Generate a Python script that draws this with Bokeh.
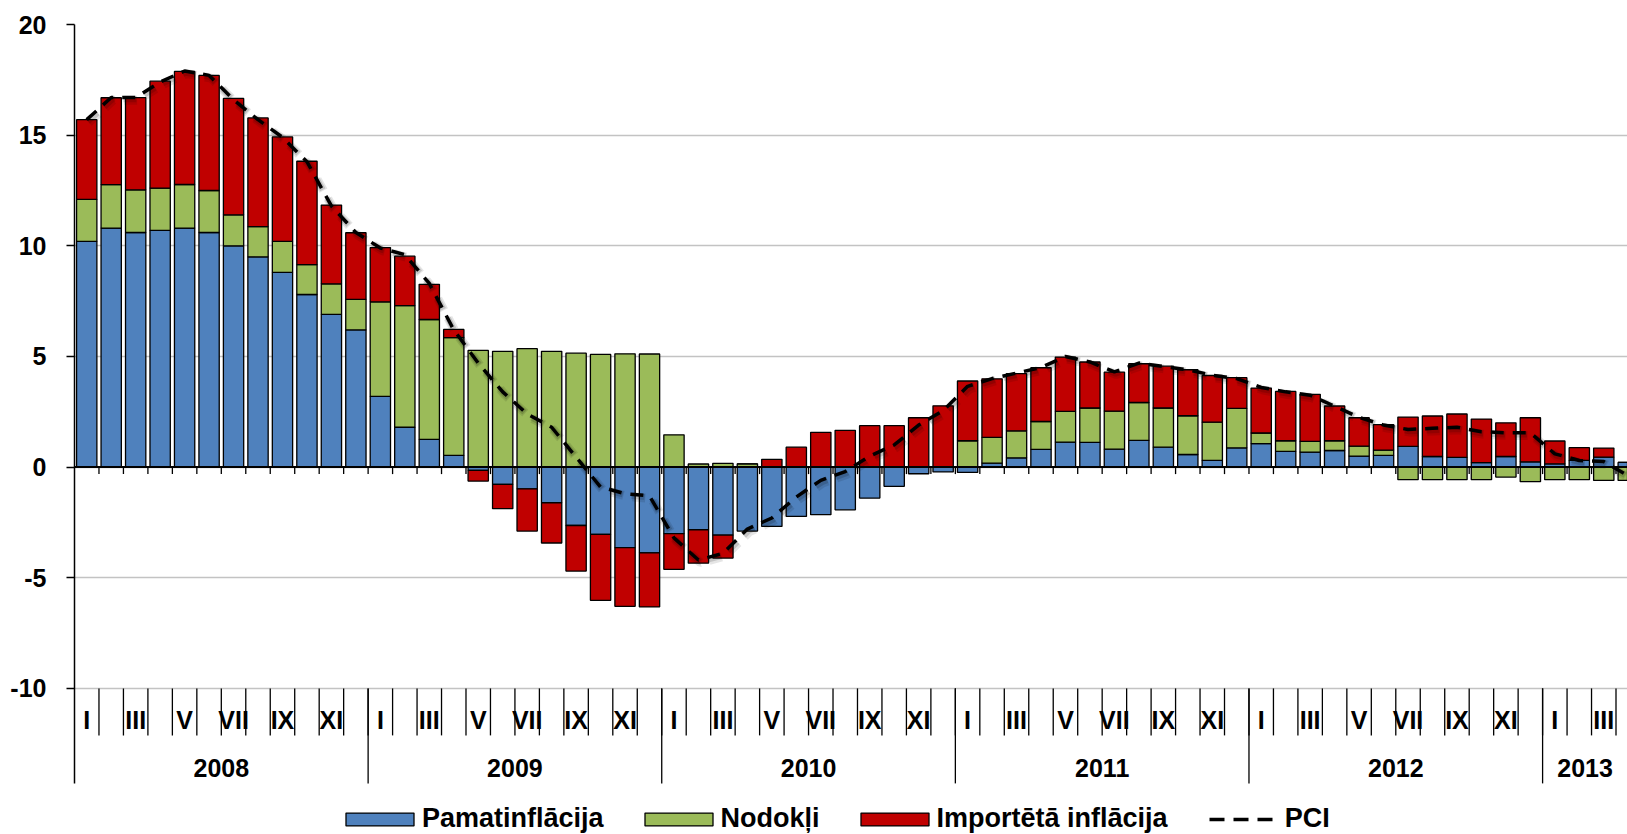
import numpy as np
from bokeh.plotting import figure
from bokeh.models import ColumnDataSource, FixedTicker, Span, Legend, LegendItem, Range1d
from bokeh.core.properties import value
from bokeh.embed import file_html
from bokeh.resources import INLINE

# ---------------- data ----------------
years = ["2008", "2009", "2010", "2011", "2012", "2013"]
month_labels = ["I", "II", "III", "IV", "V", "VI", "VII", "VIII", "IX", "X", "XI", "XII"]

pamatinflacija = [
    10.2, 10.8, 10.6, 10.7, 10.8, 10.6, 10.0, 9.5, 8.8, 7.8, 6.9, 6.2,
    3.2, 1.8, 1.25, 0.53, -0.15, -0.78, -0.98, -1.61, -2.64, -3.04, -3.64, -3.88,
    -3.01, -2.83, -3.07, -2.89, -2.68, -2.23, -2.15, -1.93, -1.40, -0.87, -0.30, -0.22,
    -0.24, 0.18, 0.42, 0.80, 1.13, 1.12, 0.81, 1.21, 0.90, 0.57, 0.30, 0.87,
    1.06, 0.71, 0.68, 0.75, 0.50, 0.53, 0.94, 0.48, 0.44, 0.20, 0.48, 0.24,
    0.15, 0.30, 0.45, 0.21,
]
nodokli = [
    1.90, 1.96, 1.93, 1.91, 1.97, 1.90, 1.40, 1.37, 1.40, 1.35, 1.38, 1.38,
    4.27, 5.50, 5.42, 5.32, 5.27, 5.23, 5.35, 5.23, 5.15, 5.09, 5.12, 5.11,
    1.46, 0.14, 0.17, 0.15, 0.0, 0.0, 0.0, 0.0, 0.0, 0.0, 0.0, 0.0,
    1.19, 1.16, 1.22, 1.26, 1.39, 1.55, 1.72, 1.71, 1.77, 1.75, 1.73, 1.78,
    0.48, 0.48, 0.48, 0.44, 0.45, 0.24, -0.57, -0.57, -0.57, -0.57, -0.45, -0.66,
    -0.57, -0.57, -0.60, -0.60,
]
importeta = [
    3.60, 3.93, 4.17, 4.83, 5.11, 5.20, 5.26, 4.91, 4.72, 4.67, 3.56, 3.01,
    2.45, 2.23, 1.59, 0.37, -0.48, -1.10, -1.91, -1.82, -2.06, -2.98, -2.65, -2.44,
    -1.61, -1.51, -1.04, 0.0, 0.35, 0.90, 1.57, 1.66, 1.87, 1.87, 2.23, 2.77,
    2.70, 2.65, 2.58, 2.43, 2.45, 2.08, 1.76, 1.75, 1.89, 2.08, 2.11, 1.39,
    2.03, 2.23, 2.13, 1.57, 1.28, 1.15, 1.32, 1.83, 1.96, 1.97, 1.52, 1.99,
    1.03, 0.58, 0.41, 0.0,
]
pci = [
    15.7, 16.7, 16.7, 17.4, 17.9, 17.7, 16.6, 15.7, 14.9, 13.8, 11.8, 10.6,
    9.9, 9.6, 8.3, 6.2, 4.7, 3.4, 2.4, 1.8, 0.45, -0.9, -1.2, -1.3,
    -3.2, -4.2, -3.9, -2.8, -2.3, -1.35, -0.6, -0.2, 0.5, 1.0, 1.9, 2.55,
    3.65, 4.0, 4.25, 4.5, 5.0, 4.75, 4.3, 4.7, 4.55, 4.4, 4.15, 4.0,
    3.6, 3.4, 3.25, 2.75, 2.25, 1.9, 1.7, 1.75, 1.8, 1.6, 1.55, 1.55,
    0.6, 0.3, 0.25, -0.4,
]

series_names = ["Pamatinflācija", "Nodokļi", "Importētā inflācija"]
series_values = [pamatinflacija, nodokli, importeta]
series_colors = ["#4F81BD", "#9BBB59", "#C00000"]

# ---------------- layout constants ----------------
FONT = "Liberation Sans"
FIG_W, FIG_H = 1627, 834
BORDER_L, BORDER_T = 74, 24
Y_TOP = 20.0
PX = 22.13                       # pixels per y unit
frame_h = FIG_H - BORDER_T
Y_BOT = Y_TOP - frame_h / PX
X_END = 63.47

n = len(pamatinflacija)
xc = np.arange(n) + 0.5

# stacking (positives up from 0, negatives down from 0)
pos = np.zeros(n)
neg = np.zeros(n)
sources = []
for vals in series_values:
    v = np.array(vals, dtype=float)
    bottom = np.where(v >= 0, pos, neg + v)
    top = np.where(v >= 0, pos + v, neg)
    pos = np.where(v >= 0, pos + v, pos)
    neg = np.where(v < 0, neg + v, neg)
    sources.append(ColumnDataSource(dict(x=xc, bottom=bottom, top=top)))

p = figure(width=FIG_W, height=FIG_H, output_backend="svg", toolbar_location=None,
           x_range=Range1d(0, X_END), y_range=Range1d(Y_BOT, Y_TOP),
           x_axis_location=None, min_border_left=BORDER_L, min_border_right=0,
           min_border_top=BORDER_T, min_border_bottom=0)
p.outline_line_color = None
p.background_fill_color = "white"
p.xgrid.visible = False

yt = FixedTicker(ticks=[-10, -5, 0, 5, 10, 15, 20])
year_tick_bot = -10 - 95 / PX
month_tick_bot = -10 - 47 / PX

ax = p.yaxis[0]
ax.ticker = yt
ax.bounds = (year_tick_bot, Y_TOP)
ax.axis_line_color = "black"
ax.axis_line_width = 1.5
ax.major_tick_out = 8
ax.major_tick_in = 0
ax.major_tick_line_width = 1.5
ax.minor_tick_line_color = None
ax.major_label_standoff = 20
ax.major_label_overrides = {-10: "-10", -5: "-5"}
ax.major_label_text_font = FONT
ax.major_label_text_font_style = "bold"
ax.major_label_text_font_size = "25px"
ax.major_label_text_color = "black"

p.ygrid.ticker = yt
p.ygrid.grid_line_color = "#C3C3C3"
p.ygrid.grid_line_width = 1.3

renderers = []
for src, col in zip(sources, series_colors):
    r = p.vbar(x="x", width=0.83, bottom="bottom", top="top", source=src,
               fill_color=col, line_color="black", line_width=1.3)
    renderers.append(r)

# zero axis line with small ticks
p.add_layout(Span(location=0, dimension="width", line_color="black", line_width=2))
bounds = np.arange(1, n)
p.segment(x0=bounds, y0=np.zeros(len(bounds)), x1=bounds, y1=np.full(len(bounds), -7 / PX),
          line_color="black", line_width=1.3)

# category label lines
p.segment(x0=bounds, y0=np.full(len(bounds), -10.0), x1=bounds,
          y1=np.full(len(bounds), month_tick_bot), line_color="black", line_width=1.3)
ybounds = np.arange(12, n, 12)
p.segment(x0=ybounds, y0=np.full(len(ybounds), -10.0), x1=ybounds,
          y1=np.full(len(ybounds), year_tick_bot), line_color="black", line_width=1.3)

# month labels (every other)
mx = [i + 0.5 for i in range(n) if i % 2 == 0]
mt = [month_labels[i % 12] for i in range(n) if i % 2 == 0]
p.text(x=mx, y=[-10 - 32 / PX] * len(mx), text=mt, text_align="center",
       text_baseline="middle", text_font=value(FONT), text_font_style="bold",
       text_font_size="25px", text_color="black")

# year labels
yx = []
for k in range(len(years)):
    a = 12 * k
    b = min(12 * (k + 1), X_END)
    yx.append((a + b) / 2)
p.text(x=yx, y=[-10 - 80 / PX] * len(yx), text=years, text_align="center",
       text_baseline="middle", text_font=value(FONT), text_font_style="bold",
       text_font_size="25px", text_color="black")

# PCI line with soft shadow
pci_arr = np.array(pci)
p.line(x=xc + 0.08, y=pci_arr - 0.12, line_color="black", line_alpha=0.10,
       line_width=9, line_dash="13 9")
p.line(x=xc + 0.05, y=pci_arr - 0.08, line_color="black", line_alpha=0.15,
       line_width=6, line_dash="13 9")
p.line(x=xc, y=pci_arr, line_color="black", line_width=3.5, line_dash="13 9")
# legend-only glyph for the PCI entry (drawn outside the visible range)
pci_leg = p.line(x=[-5, -4], y=[0, 0], line_color="black", line_width=3.5,
                 line_dash="15 9 15 9 15 22", line_dash_offset=76)

items = [LegendItem(label=nm, renderers=[r]) for nm, r in zip(series_names, renderers)]
items.append(LegendItem(label="PCI", renderers=[pci_leg]))
legend = Legend(items=items, orientation="horizontal", location=(263, 0),
                glyph_width=85, glyph_height=16, label_standoff=-2, spacing=32,
                padding=0, margin=0, border_line_alpha=0, background_fill_alpha=0,
                label_text_font=FONT, label_text_font_style="bold",
                label_text_font_size="27px", label_text_color="black")
p.add_layout(legend)

open("out.html", "w").write(file_html(p, INLINE))
